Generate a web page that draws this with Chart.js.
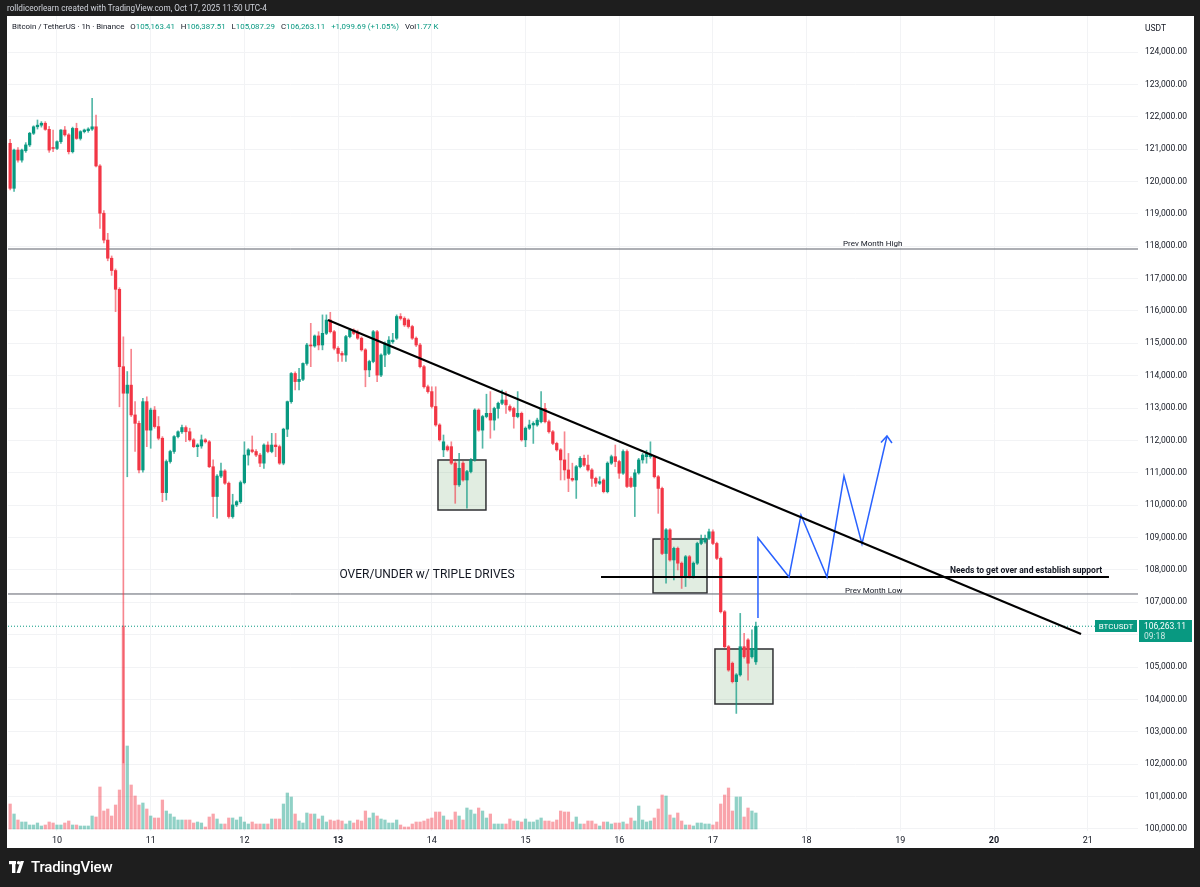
<!DOCTYPE html>
<html>
<head>
<meta charset="utf-8">
<script src="https://cdn.jsdelivr.net/npm/chart.js@4.4.1/dist/chart.umd.min.js"></script>
<style>
  html, body { margin: 0; padding: 0; background: #1e1e1e; }
  body { width: 1200px; height: 887px; position: relative; overflow: hidden; font-family: Roboto, "Liberation Sans", Arial, sans-serif; }
  #chart { position: absolute; left: 0; top: 0; }
  .credit { position: absolute; left: 7px; top: 3px; color: #d1d4dc; font-size: 8.2px; white-space: nowrap; }
  .legend { position: absolute; left: 12px; top: 22px; font-size: 7.9px; color: #131722; white-space: nowrap; }
  .legend span { margin-right: 4px; }
  .legend .v { color: #089981; font-weight: normal; }
  .unit { position: absolute; left: 1145px; top: 23px; font-size: 8.5px; color: #131722; }
  .footer { position: absolute; left: 9px; top: 857px; height: 20px; display: flex; align-items: center; color: #ffffff; font-size: 15px; font-weight: 500; letter-spacing: -0.2px; }
  .footer svg { margin-right: 4px; }
</style>
</head>
<body>
<canvas id="chart" width="1200" height="887"></canvas>
<div class="credit">rolldiceorlearn created with TradingView.com, Oct 17, 2025 11:50 UTC-4</div>
<div class="legend">
  <span>Bitcoin / TetherUS · 1h · Binance</span>
  <span>O<b class="v">105,163.41</b></span>
  <span>H<b class="v">106,387.51</b></span>
  <span>L<b class="v">105,087.29</b></span>
  <span>C<b class="v">106,263.11</b></span>
  <span class="v">+1,099.69 (+1.05%)</span>
  <span>Vol<b class="v">1.77 K</b></span>
</div>
<div class="unit">USDT</div>
<div class="footer">
  <svg width="18" height="12" viewBox="0 0 18 12">
    <rect x="0" y="0" width="7" height="3.2" fill="#fff"/>
    <rect x="3" y="0" width="3.4" height="12" fill="#fff"/>
    <circle cx="9.6" cy="1.7" r="1.7" fill="#fff"/>
    <polygon points="11.5,0 15,0 11,12 7.5,12" fill="#fff"/>
  </svg>
  <span>TradingView</span>
</div>
<script>
// hourly candles, Oct 9 11:00 -> Oct 17 11:00 (prices in thousands USDT)
const firstBar = 9 + 11 / 24;

const opens = [
  121.33,121.18,119.79,120.97,120.66,120.95,121.13,121.49,121.69,121.74,121.80,121.61,121.05,121.02,121.23,121.59,121.44,120.92,121.64,121.33,
  121.54,121.57,121.62,121.69,120.48,119.02,118.19,117.63,117.25,116.67,114.28,113.46,113.71,112.79,112.53,111.09,113.20,112.32,112.94,112.43,
  112.07,110.39,111.35,111.66,112.12,112.27,112.40,112.27,112.02,111.81,111.83,112.02,111.96,111.19,110.27,110.90,111.06,110.68,109.65,110.01,
  110.11,110.70,111.55,111.71,111.66,111.55,111.30,111.86,111.66,111.86,111.81,111.30,112.35,113.20,114.07,113.82,113.89,114.38,114.95,114.92,
  115.23,114.95,115.31,115.72,115.36,114.85,114.69,114.64,115.21,115.41,115.31,115.16,114.80,114.18,114.44,115.36,114.02,114.64,114.69,115.05,
  115.16,115.83,115.77,115.72,115.52,115.16,114.95,114.28,113.66,113.51,113.05,112.48,111.71,111.81,111.81,111.30,110.63,111.30,110.78,111.04,
  111.40,112.94,112.32,112.74,112.84,112.63,112.99,113.15,113.25,113.05,112.99,112.74,112.84,112.02,112.38,112.48,112.48,112.58,112.99,112.58,
  112.27,111.91,111.71,111.40,111.09,110.83,110.78,111.19,111.45,111.24,111.09,110.83,110.68,110.78,110.42,111.30,111.50,111.35,110.99,111.66,
  110.83,110.58,111.00,111.40,111.50,111.50,111.50,110.88,110.52,108.51,109.24,108.31,108.67,108.21,107.79,108.41,107.79,108.21,108.82,108.87,
  108.98,109.18,108.82,108.36,106.71,105.63,105.12,104.55,104.76,105.63,105.84,105.32,105.163
];
const highs = [
  121.50,121.30,121.00,121.05,121.00,121.20,121.52,121.72,121.90,121.85,121.85,121.70,121.59,121.26,121.60,121.70,121.48,121.68,121.80,121.57,
  121.62,121.66,122.57,122.05,120.52,119.10,118.40,117.70,117.30,116.72,115.20,114.13,114.82,113.20,112.60,113.30,113.35,113.00,113.05,112.74,
  112.12,111.40,111.70,112.15,112.30,112.48,112.45,112.38,112.06,111.90,112.17,112.06,112.00,111.40,110.95,111.30,111.10,110.72,110.34,110.14,
  110.75,111.96,111.75,112.14,111.72,111.60,111.90,111.96,112.22,112.22,111.86,112.38,113.22,114.10,114.12,114.23,114.40,115.00,115.62,115.26,
  115.36,115.88,115.88,115.96,115.40,114.90,114.75,115.25,115.46,115.45,115.41,115.20,114.84,114.48,115.40,115.40,114.68,115.05,115.21,115.31,
  115.88,115.92,115.82,115.76,115.56,115.20,115.00,114.32,113.71,113.66,113.66,112.52,112.17,111.86,111.96,111.35,111.60,111.35,111.08,111.44,
  112.98,112.98,112.78,113.43,113.51,113.03,113.19,113.56,113.51,113.10,113.03,113.51,112.88,112.42,112.63,112.58,112.69,113.51,113.15,112.63,
  112.31,111.95,111.75,112.27,111.60,111.30,111.23,111.50,111.55,111.55,111.13,110.87,110.88,110.82,111.34,111.55,111.86,111.39,111.71,111.71,
  110.88,111.10,111.45,111.60,111.70,111.96,111.54,110.92,110.56,109.28,109.28,108.71,108.71,108.25,108.45,108.45,108.25,108.86,109.08,109.08,
  109.26,109.24,108.86,108.40,106.75,105.67,105.16,104.80,106.66,106.04,105.88,106.15,106.388
];
const lows = [
  120.90,119.74,119.69,120.60,120.60,120.90,121.08,121.45,121.62,121.68,121.58,120.90,120.92,120.98,121.18,121.40,120.85,120.88,121.30,121.28,
  121.50,121.52,121.58,120.45,118.55,118.10,117.55,117.10,115.98,113.04,102.04,110.88,112.74,111.66,111.00,111.02,111.81,111.76,112.38,112.02,
  110.11,110.16,111.30,111.60,112.08,112.22,111.96,111.98,111.78,111.50,111.76,111.92,111.16,109.65,109.60,110.85,110.64,109.60,109.60,109.96,
  110.06,110.66,111.24,111.62,111.50,111.19,111.14,111.62,111.62,111.50,111.26,111.25,112.12,113.15,113.56,113.56,113.85,114.33,114.28,114.88,
  114.80,114.80,115.27,115.32,114.80,114.44,114.44,114.44,115.17,115.27,115.12,114.76,113.66,113.97,114.40,113.82,113.97,114.28,114.65,115.00,
  115.12,115.72,115.52,115.47,115.12,114.90,114.24,113.62,113.46,113.00,112.44,111.98,111.50,111.67,111.26,110.06,110.58,110.74,109.91,111.00,
  111.36,112.28,111.76,112.70,112.07,112.32,112.69,113.11,112.84,112.90,112.38,112.70,111.98,111.81,112.34,111.91,112.44,112.54,112.54,112.23,
  111.87,111.67,110.78,110.78,110.42,110.74,110.21,111.15,111.20,111.05,110.58,110.58,110.64,110.38,110.38,111.26,111.19,110.83,110.95,110.54,
  110.54,109.65,110.96,111.30,111.30,111.45,110.84,109.75,108.47,107.59,108.27,107.69,108.00,107.43,107.49,107.75,107.75,108.17,108.78,108.83,
  108.94,108.78,108.32,106.67,105.59,104.87,104.51,103.57,104.72,105.28,104.60,105.28,105.087
];
const closes = [
  121.18,119.79,120.97,120.66,120.97,121.13,121.49,121.69,121.74,121.80,121.61,120.97,121.02,121.23,121.59,121.44,120.92,121.64,121.33,121.54,
  121.59,121.62,121.69,120.48,119.02,118.19,117.63,117.25,116.67,114.28,113.46,113.71,112.79,112.53,111.09,113.20,112.32,112.94,112.43,112.07,
  110.39,111.35,111.66,112.12,112.27,112.40,112.27,112.02,111.81,111.86,112.02,111.96,111.19,110.27,110.90,111.06,110.68,109.65,110.01,110.11,
  110.70,111.55,111.71,111.66,111.55,111.30,111.86,111.66,111.86,111.81,111.30,112.35,113.20,114.07,113.82,113.89,114.38,114.95,114.92,115.23,
  114.95,115.31,115.72,115.36,114.85,114.69,114.64,115.21,115.41,115.31,115.16,114.80,114.18,114.44,115.36,114.02,114.64,115.00,115.10,115.10,
  115.83,115.77,115.57,115.52,115.16,114.95,114.28,113.66,113.51,113.05,112.48,112.02,111.96,111.71,111.30,110.63,111.14,110.78,111.04,111.40,
  112.94,112.32,112.74,112.84,112.63,112.99,113.15,113.25,113.10,112.94,112.74,112.84,112.02,112.38,112.48,112.53,112.63,112.99,112.58,112.27,
  111.91,111.71,111.40,111.09,110.83,110.78,111.19,111.45,111.24,111.09,110.83,110.68,110.73,110.42,111.30,111.50,111.35,110.99,111.66,110.58,
  110.58,111.00,111.40,111.55,111.60,111.55,110.88,110.52,108.51,109.24,108.31,108.67,108.21,107.79,108.41,107.79,108.21,108.82,108.93,108.98,
  109.18,108.82,108.36,106.71,105.63,104.91,104.55,104.76,105.63,105.32,105.12,105.58,106.263
];
// volume bar heights
const volumes = [
  11,25,15,9,7,7,4,4,6,3,4,7,6,4,4,6,8,4,4,3,3,3,13,12,42,18,20,13,24,39,
  203,83,44,33,24,26,20,13,11,11,29,18,15,12,9,9,9,9,6,7,6,2,12,15,10,5,5,11,11,9,
  12,7,5,7,5,5,5,5,10,10,10,25,36,32,15,8,6,16,15,15,10,13,7,9,8,9,8,5,8,6,
  9,8,18,11,16,13,
  10,9,6,6,9,4,2,2,5,7,7,8,10,11,17,17,13,9,9,17,13,9,21,19,15,21,18,11,15,5,
  5,5,5,10,8,8,7,10,7,7,9,11,8,8,7,9,18,17,17,7,12,5,5,8,8,5,3,7,7,5,
  6,6,7,5,11,8,23,9,7,8,11,20,34,33,14,11,16,8,4,4,3,6,6,5,5,4,7,25,34,41,
  18,32,32,12,21,18,16
];

const dayTicks = [10, 11, 12, 13, 14, 15, 16, 17, 18, 19, 20, 21];
const boldDays = [13, 20];
const priceTicks = [100,101,102,103,104,105,106,107,108,109,110,111,112,113,114,115,116,117,118,119,120,121,122,123,124];

// drawings (day, price)
const prevMonthHigh = 117.915;
const prevMonthLow = 107.259;
const supportLevel = 107.784;
const supportSpan = [15.806, 21.227];
const trendLine = [[12.892, 115.722], [20.929, 106.023]];
const projection = [[17.481, 106.517], [17.481, 108.988], [17.812, 107.784], [17.940, 109.699], [18.218, 107.784], [18.399, 110.903], [18.591, 108.803], [18.858, 112.139]];
const arrowHead = [[18.794, 111.938], [18.858, 112.139], [18.911, 111.923]];
const boxes = [[14.066, 111.398, 14.578, 109.853], [16.361, 108.957, 16.937, 107.290], [17.022, 105.560, 17.641, 103.861]];
const notes = ['Prev Month High', 'Prev Month Low', 'Needs to get over and establish support', 'OVER/UNDER w/ TRIPLE DRIVES'];
const noteAt = [[18.389, prevMonthHigh], [18.410, prevMonthLow], [19.530, supportLevel], [13.949, 107.846]];

const xMin = 9.4771, xMax = 21.5368;
const UP = '#089981', DOWN = '#f23645';
const FONT = 'Roboto, "Liberation Sans", Arial, sans-serif';

const xs = closes.map((_, i) => firstBar + i / 24);
const isUp = i => closes[i] >= opens[i];
const lastClose = closes[closes.length - 1];

const fmtPrice = v => (v * 1000).toLocaleString('en-US', { minimumFractionDigits: 2, maximumFractionDigits: 2 });
const pts = arr => arr.map(p => ({ x: p[0], y: p[1] }));

const framePlugin = {
  id: 'frame',
  beforeDraw(chart) {
    const c = chart.ctx;
    c.save();
    c.fillStyle = '#1e1e1e';
    c.fillRect(0, 0, chart.width, chart.height);
    c.fillStyle = '#ffffff';
    c.fillRect(7, 16, 1187, 832);
    c.restore();
  }
};

const drawingsPlugin = {
  id: 'drawings',
  beforeDatasetsDraw(chart) {
    const c = chart.ctx, sx = chart.scales.x, sy = chart.scales.y;
    c.save();
    boxes.forEach(b => {
      const x1 = sx.getPixelForValue(b[0]), y1 = sy.getPixelForValue(b[1]);
      const x2 = sx.getPixelForValue(b[2]), y2 = sy.getPixelForValue(b[3]);
      c.fillStyle = 'rgba(76, 150, 80, 0.17)';
      c.fillRect(x1, y1, x2 - x1, y2 - y1);
      c.strokeStyle = '#2f3033';
      c.lineWidth = 1.5;
      c.strokeRect(x1, y1, x2 - x1, y2 - y1);
    });
    c.restore();
  },
  afterDatasetsDraw(chart) {
    const c = chart.ctx, sx = chart.scales.x, sy = chart.scales.y;
    c.save();
    c.fillStyle = '#131722';
    c.textAlign = 'left';
    c.textBaseline = 'bottom';
    c.font = '8px ' + FONT;
    c.fillText(notes[0], sx.getPixelForValue(noteAt[0][0]), sy.getPixelForValue(noteAt[0][1]) - 1);
    c.fillText(notes[1], sx.getPixelForValue(noteAt[1][0]), sy.getPixelForValue(noteAt[1][1]) + 1);
    c.font = 'bold 8.5px ' + FONT;
    c.fillText(notes[2], sx.getPixelForValue(noteAt[2][0]), sy.getPixelForValue(noteAt[2][1]) - 2);
    c.font = '12px ' + FONT;
    c.textAlign = 'center';
    c.textBaseline = 'middle';
    c.fillText(notes[3], sx.getPixelForValue(noteAt[3][0]), sy.getPixelForValue(noteAt[3][1]));
    c.restore();
  },
  afterDraw(chart) {
    const c = chart.ctx, sy = chart.scales.y, area = chart.chartArea;
    const py = Math.round(sy.getPixelForValue(lastClose));
    c.save();
    c.fillStyle = UP;
    c.fillRect(area.right - 43, py - 6, 42, 12);
    c.fillRect(area.right + 1, py - 6, 53, 22);
    c.fillStyle = '#ffffff';
    c.font = '8px ' + FONT;
    c.textBaseline = 'middle';
    c.textAlign = 'center';
    c.fillText('BTCUSDT', area.right - 22, py + 0.5);
    c.textAlign = 'left';
    c.font = '8.5px ' + FONT;
    c.fillText('106,263.11', area.right + 6, py + 0.5);
    c.fillStyle = 'rgba(255,255,255,0.8)';
    c.fillText('09:18', area.right + 6, py + 11);
    c.restore();
  }
};

const lineSet = (data, color, width, order, extra) => Object.assign({
  type: 'line', data, borderColor: color, borderWidth: width, pointRadius: 0,
  fill: false, tension: 0, order, yAxisID: 'y'
}, extra || {});

new Chart(document.getElementById('chart'), {
  data: {
    datasets: [
      lineSet(pts(trendLine), '#000000', 2, 1),
      lineSet(pts(projection), '#2962ff', 1.5, 1),
      lineSet(pts(arrowHead), '#2962ff', 1.5, 1),
      lineSet(pts([[supportSpan[0], supportLevel], [supportSpan[1], supportLevel]]), '#000000', 2, 1),
      lineSet(pts([[xMin, lastClose], [xMax, lastClose]]), UP, 1, 2, { borderDash: [1, 2] }),
      {
        type: 'bar', data: xs.map((x, i) => ({ x, y: [opens[i], closes[i]] })),
        backgroundColor: xs.map((_, i) => isUp(i) ? UP : DOWN),
        barThickness: 2.6, minBarLength: 1, grouped: false, order: 3, yAxisID: 'y'
      },
      {
        type: 'bar', data: xs.map((x, i) => ({ x, y: [lows[i], highs[i]] })),
        backgroundColor: xs.map((_, i) => isUp(i) ? 'rgba(8,153,129,0.7)' : 'rgba(242,54,69,0.6)'),
        barThickness: 1, grouped: false, order: 4, yAxisID: 'y'
      },
      lineSet(pts([[xMin, prevMonthHigh], [xMax, prevMonthHigh]]), '#5d606b', 1, 5),
      lineSet(pts([[xMin, prevMonthLow], [xMax, prevMonthLow]]), '#5d606b', 1, 5),
      {
        type: 'bar', data: xs.map((x, i) => ({ x, y: volumes[i] })),
        backgroundColor: xs.map((_, i) => isUp(i) ? 'rgba(8,153,129,0.45)' : 'rgba(242,54,69,0.45)'),
        barThickness: 2.6, grouped: false, order: 6, yAxisID: 'yv'
      }
    ]
  },
  options: {
    responsive: false,
    animation: false,
    devicePixelRatio: 1,
    events: [],
    layout: { padding: { left: 8, top: 16, right: 6, bottom: 39 } },
    plugins: { legend: { display: false }, tooltip: { enabled: false } },
    scales: {
      x: {
        type: 'linear', min: xMin, max: xMax, offset: false,
        afterBuildTicks: s => { s.ticks = dayTicks.map(v => ({ value: v })); },
        afterFit: s => { s.height = 17; },
        grid: { color: '#f2f3f5', drawTicks: false, offset: false },
        border: { display: false },
        ticks: {
          padding: 4, color: '#131722', maxRotation: 0, autoSkip: false,
          callback: v => String(v),
          font: ctx => ({ family: FONT, size: 9, weight: ctx.tick && boldDays.includes(ctx.tick.value) ? 'bold' : 'normal' })
        }
      },
      y: {
        type: 'linear', position: 'right', min: 99.938, max: 125.112,
        afterBuildTicks: s => { s.ticks = priceTicks.map(v => ({ value: v })); },
        afterFit: s => { s.width = 56; },
        grid: { color: '#f2f3f5', drawTicks: false },
        border: { display: false },
        ticks: { padding: 7, color: '#131722', font: { family: FONT, size: 8.5 }, callback: v => fmtPrice(v) }
      },
      yv: { type: 'linear', display: false, min: -2, max: 813 }
    }
  },
  plugins: [framePlugin, drawingsPlugin]
});
</script>
</body>
</html>
